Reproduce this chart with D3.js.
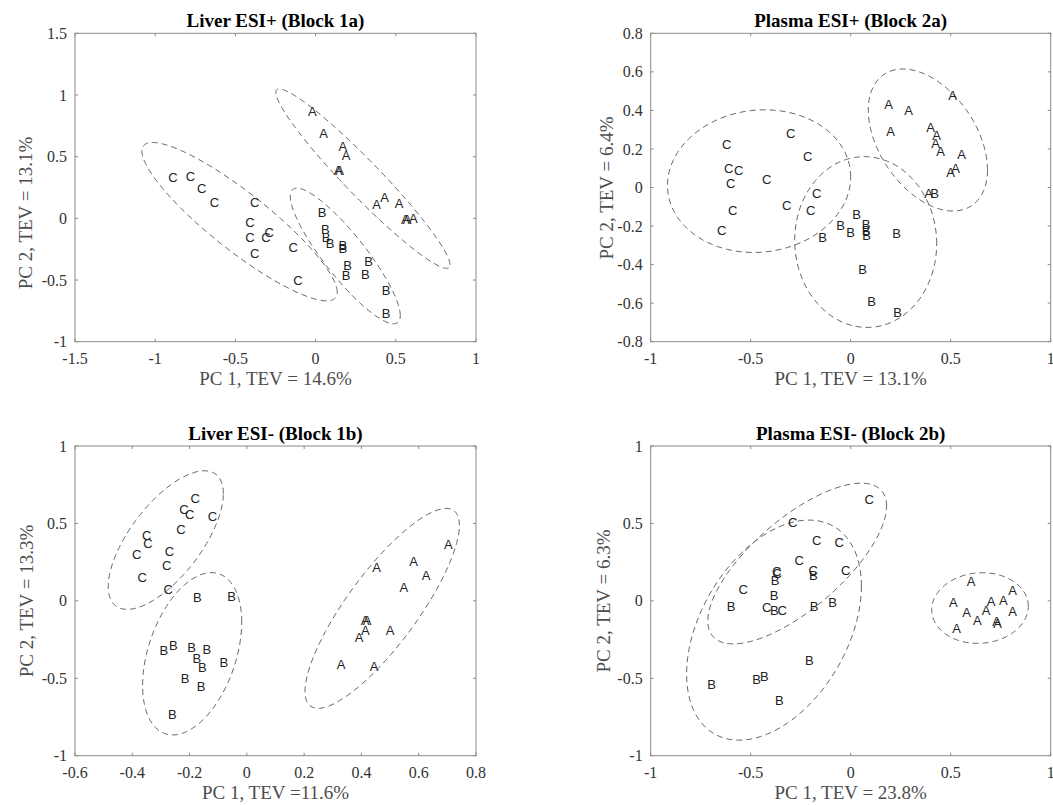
<!DOCTYPE html>
<html>
<head>
<meta charset="utf-8">
<script src="https://cdn.jsdelivr.net/npm/d3@7"></script>
<style>
  body { margin: 0; background: #fff; }
  svg text { font-family: 'Liberation Serif', 'Times New Roman', serif; }
  .tick-label { font-size: 16px; fill: #333; }
  .axis-label { font-size: 19px; fill: #4d4d4d; }
  .title { font-size: 19px; font-weight: bold; fill: #000; }
  .mark { font-family: 'Liberation Sans', Arial, sans-serif; font-size: 13px; fill: #222; }
</style>
</head>
<body>
<svg id="chart" width="1053" height="805"></svg>
<script>
/* global d3 */

// group letters used as the plot markers
var groups = ['A', 'B', 'C']

// Liver ESI+ (Block 1a) scores, [PC1, PC2]
var liverPosA = [[-0.02, 0.87], [0.05, 0.69], [0.17, 0.58], [0.19, 0.51], [0.14, 0.39], [0.15, 0.39],
  [0.38, 0.11], [0.43, 0.17], [0.52, 0.12], [0.56, -0.01], [0.57, -0.005], [0.61, 0.0]]
var liverPosB = [[0.04, 0.05], [0.06, -0.09], [0.065, -0.15], [0.09, -0.2], [0.17, -0.22], [0.17, -0.24],
  [0.2, -0.38], [0.19, -0.46], [0.33, -0.35], [0.31, -0.45], [0.44, -0.58], [0.44, -0.77]]
var liverPosC = [[-0.89, 0.33], [-0.78, 0.34], [-0.71, 0.24], [-0.63, 0.13], [-0.38, 0.13], [-0.41, -0.035],
  [-0.41, -0.15], [-0.29, -0.11], [-0.31, -0.15], [-0.38, -0.28], [-0.14, -0.235], [-0.11, -0.5]]

// Plasma ESI+ (Block 2a)
var plasmaPosA = [[0.51, 0.48], [0.19, 0.43], [0.29, 0.40], [0.20, 0.29], [0.40, 0.31], [0.43, 0.27],
  [0.425, 0.23], [0.45, 0.19], [0.555, 0.17], [0.50, 0.08], [0.525, 0.10], [0.39, -0.03]]
var plasmaPosB = [[0.42, -0.03], [0.03, -0.14], [-0.05, -0.195], [0.0, -0.23], [0.077, -0.19], [0.077, -0.22],
  [0.08, -0.25], [-0.14, -0.26], [0.23, -0.24], [0.06, -0.425], [0.105, -0.59], [0.235, -0.65]]
var plasmaPosC = [[-0.62, 0.225], [-0.30, 0.28], [-0.215, 0.16], [-0.61, 0.10], [-0.56, 0.09], [-0.60, 0.02],
  [-0.42, 0.04], [-0.17, -0.03], [-0.32, -0.09], [-0.20, -0.12], [-0.59, -0.12], [-0.645, -0.22]]

// Liver ESI- (Block 1b)
var liverNegA = [[0.703, 0.367], [0.582, 0.253], [0.626, 0.162], [0.453, 0.216], [0.548, 0.085], [0.413, -0.128],
  [0.42, -0.128], [0.414, -0.188], [0.392, -0.235], [0.5, -0.193], [0.329, -0.408], [0.444, -0.425]]
var liverNegB = [[-0.173, 0.02], [-0.053, 0.027], [-0.29, -0.32], [-0.257, -0.29], [-0.193, -0.30], [-0.14, -0.31],
  [-0.175, -0.37], [-0.155, -0.43], [-0.08, -0.40], [-0.216, -0.50], [-0.16, -0.55], [-0.26, -0.73]]
var liverNegC = [[-0.18, 0.66], [-0.22, 0.59], [-0.20, 0.56], [-0.12, 0.545], [-0.23, 0.46], [-0.35, 0.425],
  [-0.345, 0.37], [-0.27, 0.32], [-0.385, 0.30], [-0.28, 0.23], [-0.365, 0.155], [-0.275, 0.075]]

// Plasma ESI- (Block 2b)
var plasmaNegA = [[0.6015, 0.123], [0.81, 0.065], [0.513, -0.01], [0.7015, 0.0], [0.763, 0.005], [0.58, -0.074],
  [0.6765, -0.064], [0.81, -0.07], [0.633, -0.128], [0.73, -0.135], [0.735, -0.145], [0.53, -0.178]]
var plasmaNegB = [[-0.378, 0.135], [-0.187, 0.167], [-0.383, 0.038], [-0.598, -0.038], [-0.382, -0.063], [-0.183, -0.033],
  [-0.09, -0.012], [-0.207, -0.382], [-0.47, -0.504], [-0.432, -0.485], [-0.695, -0.537], [-0.357, -0.64]]
var plasmaNegC = [[0.092, 0.656], [-0.29, 0.505], [-0.17, 0.389], [-0.058, 0.376], [-0.257, 0.264], [-0.187, 0.199],
  [-0.025, 0.199], [-0.37, 0.188], [-0.367, 0.178], [-0.537, 0.074], [-0.42, -0.042], [-0.342, -0.059]]

// confidence ellipses per group (A, B, C): [cx, cy, rx, ry, rho]
var liverPosEllipses = [[0.295, 0.322, 0.543, 0.727, -0.96], [0.185, -0.305, 0.343, 0.55, -0.88], [-0.474, -0.027, 0.609, 0.642, -0.89]]
var plasmaPosEllipses = [[0.386, 0.2465, 0.298, 0.3685, -0.42], [0.075, -0.283, 0.355, 0.443, -0.02], [-0.458, 0.033, 0.458, 0.37, 0.06]]
var liverNegEllipses = [[0.4725, -0.0485, 0.2695, 0.6455, 0.83], [-0.191, -0.342, 0.173, 0.524, 0.39], [-0.283, 0.3925, 0.201, 0.4475, 0.67]]
var plasmaNegEllipses = [[0.6465, -0.0465, 0.2415, 0.228, 0.05], [-0.3835, -0.189, 0.437, 0.7106, 0.40], [-0.2675, 0.241, 0.447, 0.519, 0.715]]

// tick labels
var liverPosXTicks = ['-1.5', '-1', '-0.5', '0', '0.5', '1']
var liverPosYTicks = ['-1', '-0.5', '0', '0.5', '1', '1.5']
var plasmaPosXTicks = ['-1', '-0.5', '0', '0.5', '1']
var plasmaPosYTicks = ['-0.8', '-0.6', '-0.4', '-0.2', '0', '0.2', '0.4', '0.6', '0.8']
var liverNegXTicks = ['-0.6', '-0.4', '-0.2', '0', '0.2', '0.4', '0.6', '0.8']
var liverNegYTicks = ['-1', '-0.5', '0', '0.5', '1']
var plasmaNegXTicks = ['-1', '-0.5', '0', '0.5', '1']
var plasmaNegYTicks = ['-1', '-0.5', '0', '0.5', '1']

var panels = [
  {title: 'Liver ESI+ (Block 1a)', xLabel: 'PC 1, TEV = 14.6%', yLabel: 'PC 2, TEV = 13.1%',
    points: [liverPosA, liverPosB, liverPosC], ellipses: liverPosEllipses,
    xTicks: liverPosXTicks, yTicks: liverPosYTicks,
    box: {left: 75, right: 476, top: 33.3, bottom: 341.7}, yLabelX: 32, yLabelY: 213},
  {title: 'Plasma ESI+ (Block 2a)', xLabel: 'PC 1, TEV = 13.1%', yLabel: 'PC 2, TEV = 6.4%',
    points: [plasmaPosA, plasmaPosB, plasmaPosC], ellipses: plasmaPosEllipses,
    xTicks: plasmaPosXTicks, yTicks: plasmaPosYTicks,
    box: {left: 650.7, right: 1050.7, top: 33.3, bottom: 341.7}, yLabelX: 613, yLabelY: 188},
  {title: 'Liver ESI- (Block 1b)', xLabel: 'PC 1, TEV =11.6%', yLabel: 'PC 2, TEV = 13.3%',
    points: [liverNegA, liverNegB, liverNegC], ellipses: liverNegEllipses,
    xTicks: liverNegXTicks, yTicks: liverNegYTicks,
    box: {left: 75, right: 476, top: 446, bottom: 755.7}, yLabelX: 33, yLabelY: 601},
  {title: 'Plasma ESI- (Block 2b)', xLabel: 'PC 1, TEV = 23.8%', yLabel: 'PC 2, TEV = 6.3%',
    points: [plasmaNegA, plasmaNegB, plasmaNegC], ellipses: plasmaNegEllipses,
    xTicks: plasmaNegXTicks, yTicks: plasmaNegYTicks,
    box: {left: 650.7, right: 1050.7, top: 446, bottom: 755.7}, yLabelX: 610, yLabelY: 601}
]

var svg = d3.select('#chart')

panels.forEach(drawPanel)

// sample an ellipse given by centre, half extents and correlation
function ellipsePoints (e) {
  var pts = []
  var s = Math.sqrt(1 - e[4] * e[4])
  for (var i = 0; i <= 160; i++) {
    var t = i / 160 * 2 * Math.PI
    pts.push([e[0] + e[2] * Math.cos(t), e[1] + e[3] * (e[4] * Math.cos(t) + s * Math.sin(t))])
  }
  return pts
}

function drawPanel (p) {
  var b = p.box
  var xVals = p.xTicks.map(Number)
  var yVals = p.yTicks.map(Number)

  var x = d3.scaleLinear()
            .domain([xVals[0], xVals[xVals.length - 1]])
            .range([b.left, b.right])
  var y = d3.scaleLinear()
            .domain([yVals[0], yVals[yVals.length - 1]])
            .range([b.bottom, b.top])

  var g = svg.append('g')
  var tick = 3

  // dashed ellipses
  var line = d3.line()
      .x(function (d) { return x(d[0]) })
      .y(function (d) { return y(d[1]) })
  g.selectAll('.ellipse')
      .data(p.ellipses)
    .enter().append('path')
      .attr('class', 'ellipse')
      .attr('d', function (d) { return line(ellipsePoints(d)) })
      .attr('fill', 'none')
      .attr('stroke', '#666')
      .attr('stroke-width', 1)
      .attr('stroke-dasharray', '6,4')

  // letter markers
  p.points.forEach(function (pts, gi) {
    g.selectAll('.mark-' + gi)
        .data(pts)
      .enter().append('text')
        .attr('class', 'mark mark-' + gi)
        .attr('x', function (d) { return x(d[0]) })
        .attr('y', function (d) { return y(d[1]) })
        .attr('dy', '0.36em')
        .attr('text-anchor', 'middle')
        .text(groups[gi])
  })

  // box
  g.append('rect')
      .attr('x', b.left)
      .attr('y', b.top)
      .attr('width', b.right - b.left)
      .attr('height', b.bottom - b.top)
      .attr('fill', 'none')
      .attr('stroke', '#8a8a8a')
      .attr('stroke-width', 1)

  // x ticks on bottom and top, pointing in
  xVals.forEach(function (v, i) {
    var px = x(v)
    g.append('line').attr('x1', px).attr('x2', px)
        .attr('y1', b.bottom).attr('y2', b.bottom - tick).attr('stroke', '#8a8a8a')
    g.append('line').attr('x1', px).attr('x2', px)
        .attr('y1', b.top).attr('y2', b.top + tick).attr('stroke', '#8a8a8a')
    g.append('text')
        .attr('class', 'tick-label')
        .attr('x', px)
        .attr('y', b.bottom + 22)
        .attr('text-anchor', 'middle')
        .text(p.xTicks[i])
  })

  // y ticks on left and right
  yVals.forEach(function (v, i) {
    var py = y(v)
    g.append('line').attr('y1', py).attr('y2', py)
        .attr('x1', b.left).attr('x2', b.left + tick).attr('stroke', '#8a8a8a')
    g.append('line').attr('y1', py).attr('y2', py)
        .attr('x1', b.right).attr('x2', b.right - tick).attr('stroke', '#8a8a8a')
    g.append('text')
        .attr('class', 'tick-label')
        .attr('x', b.left - 8)
        .attr('y', py)
        .attr('dy', '0.35em')
        .attr('text-anchor', 'end')
        .text(p.yTicks[i])
  })

  // title and axis labels
  g.append('text')
      .attr('class', 'title')
      .attr('x', (b.left + b.right) / 2)
      .attr('y', b.top - 6)
      .attr('text-anchor', 'middle')
      .text(p.title)

  g.append('text')
      .attr('class', 'axis-label')
      .attr('x', (b.left + b.right) / 2)
      .attr('y', b.bottom + 43)
      .attr('text-anchor', 'middle')
      .text(p.xLabel)

  g.append('text')
      .attr('class', 'axis-label')
      .attr('transform', 'translate(' + p.yLabelX + ',' + p.yLabelY + ') rotate(-90)')
      .attr('text-anchor', 'middle')
      .text(p.yLabel)
}
</script>
</body>
</html>
